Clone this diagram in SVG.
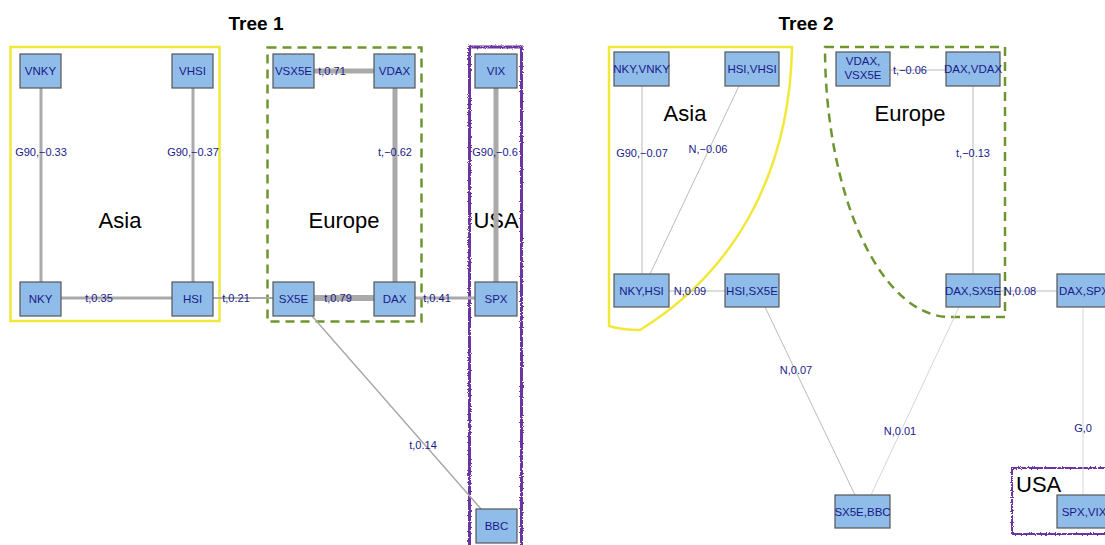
<svg xmlns="http://www.w3.org/2000/svg" width="1105" height="545" viewBox="0 0 1105 545">
<style>
.title{font-family:"Liberation Sans",Arial,sans-serif;font-size:19px;font-weight:bold;fill:#000;text-anchor:middle}
.grp{font-family:"Liberation Sans",Arial,sans-serif;font-size:22px;fill:#000;text-anchor:middle}
.node rect{fill:#8fbce9;stroke:#555;stroke-width:1.2}
.node text{font-family:"Liberation Sans",Arial,sans-serif;font-size:11.5px;fill:#1a1a8a;text-anchor:middle;dominant-baseline:central}
.el{font-family:"Liberation Sans",Arial,sans-serif;font-size:11px;fill:#1a1a8a;text-anchor:middle;dominant-baseline:central}
.e{stroke:#aaa;fill:none}
.e2{stroke:#bbb;fill:none;stroke-width:1}
.e3{stroke:#d6d6d6;fill:none;stroke-width:1}
.yel{fill:none;stroke:#f2e83a;stroke-width:2.5}
.grn{fill:none;stroke:#6d962f;stroke-width:2.5;stroke-dasharray:9 6}
.pur{fill:none;stroke:#6a35a0;filter:url(#rough)}
</style>
<defs>
<filter id="rough" x="-5%" y="-5%" width="110%" height="110%">
<feTurbulence type="fractalNoise" baseFrequency="1.2" numOctaves="2" seed="3" result="n"/>
<feDisplacementMap in="SourceGraphic" in2="n" scale="3"/>
</filter>
</defs>
<rect width="1105" height="545" fill="#fff"/>
<text class="title" x="256" y="30">Tree 1</text>
<text class="title" x="806" y="30">Tree 2</text>

<g id="groups">
<rect class="yel" x="10.5" y="47" width="209" height="274"/>
<rect class="grn" x="267.5" y="47.5" width="154" height="274"/>
<rect class="pur" x="469.5" y="47" width="52" height="510" stroke-width="3"/>
<path class="yel" d="M609 47 L792 47 C790 160 745 265 640 330 Q622 330 609 326 Z"/>
<path class="grn" d="M825 47 L1005 47 L1005 317 L950 317 A125 270 0 0 1 825 47 Z"/>
<rect class="pur" x="1012" y="468" width="110" height="66" stroke-width="2"/>
<text class="grp" x="120" y="228">Asia</text>
<text class="grp" x="344" y="228">Europe</text>
<text class="grp" x="496" y="228">USA</text>
<text class="grp" x="685" y="121">Asia</text>
<text class="grp" x="910" y="121">Europe</text>
<text class="grp" x="1016" y="492" style="text-anchor:start">USA</text>
</g>

<g id="connectors">
<line class="e" x1="41" y1="88" x2="41" y2="282" stroke-width="3"/>
<line class="e" x1="193" y1="88" x2="193" y2="282" stroke-width="3"/>
<line class="e" x1="61" y1="298" x2="172" y2="298" stroke-width="3"/>
<line class="e" x1="213" y1="298" x2="273" y2="298" stroke-width="1.8"/>
<line class="e" x1="314" y1="71" x2="374" y2="71" stroke-width="5"/>
<line class="e" x1="395" y1="88" x2="395" y2="282" stroke-width="5"/>
<line class="e" x1="314" y1="298" x2="374" y2="298" stroke-width="6"/>
<line class="e" x1="415" y1="298" x2="475" y2="298" stroke-width="3"/>
<line class="e" x1="496" y1="88" x2="496" y2="282" stroke-width="5"/>
<line class="e" x1="312" y1="316" x2="481" y2="509" stroke-width="1.5"/>
<text class="el" x="41" y="152">G90,−0.33</text>
<text class="el" x="193" y="152">G90,−0.37</text>
<text class="el" x="99" y="298">t,0.35</text>
<text class="el" x="236" y="298">t,0.21</text>
<text class="el" x="332" y="71">t,0.71</text>
<text class="el" x="395" y="152">t,−0.62</text>
<text class="el" x="338" y="298">t,0.79</text>
<text class="el" x="437" y="298">t,0.41</text>
<text class="el" x="495" y="152">G90,−0.6</text>
<text class="el" x="423" y="445">t,0.14</text>

<line class="e2" x1="642" y1="86" x2="642" y2="274"/>
<line class="e2" x1="739" y1="86" x2="650" y2="274"/>
<line class="e2" x1="669" y1="291" x2="725" y2="291"/>
<line class="e2" x1="890" y1="70" x2="946" y2="70"/>
<line class="e2" x1="973" y1="86" x2="973" y2="274"/>
<line class="e2" x1="1000" y1="291" x2="1057" y2="291"/>
<line class="e2" x1="765" y1="307" x2="855" y2="495"/>
<line class="e3" x1="959" y1="307" x2="871" y2="495"/>
<line class="e3" x1="1083" y1="307" x2="1083" y2="495"/>
<text class="el" x="642" y="153">G90,−0.07</text>
<text class="el" x="708" y="149">N,−0.06</text>
<text class="el" x="690" y="291">N,0.09</text>
<text class="el" x="910" y="70">t,−0.06</text>
<text class="el" x="973" y="153">t,−0.13</text>
<text class="el" x="1020" y="291">N,0.08</text>
<text class="el" x="796" y="370">N,0.07</text>
<text class="el" x="900" y="431">N,0.01</text>
<text class="el" x="1083" y="428">G,0</text>
</g>

<g id="VNKY" class="node"><rect x="20" y="54" width="41" height="34"/><text x="40.5" y="71">VNKY</text></g>
<g id="VHSI" class="node"><rect x="172" y="54" width="41" height="34"/><text x="192.5" y="71">VHSI</text></g>
<g id="NKY" class="node"><rect x="20" y="282" width="41" height="34"/><text x="40.5" y="299">NKY</text></g>
<g id="HSI" class="node"><rect x="172" y="282" width="41" height="34"/><text x="192.5" y="299">HSI</text></g>
<g id="VSX5E" class="node"><rect x="273" y="54" width="41" height="34"/><text x="293.5" y="71">VSX5E</text></g>
<g id="VDAX" class="node"><rect x="374" y="54" width="41" height="34"/><text x="394.5" y="71">VDAX</text></g>
<g id="SX5E" class="node"><rect x="273" y="282" width="41" height="34"/><text x="293.5" y="299">SX5E</text></g>
<g id="DAX" class="node"><rect x="374" y="282" width="41" height="34"/><text x="394.5" y="299">DAX</text></g>
<g id="VIX" class="node"><rect x="475" y="54" width="42" height="34"/><text x="496" y="71">VIX</text></g>
<g id="SPX" class="node"><rect x="475" y="282" width="42" height="34"/><text x="496" y="299">SPX</text></g>
<g id="BBC" class="node"><rect x="476" y="509" width="41" height="34"/><text x="496.5" y="526">BBC</text></g>

<g id="NKY_VNKY" class="node"><rect x="614" y="52" width="55" height="34"/><text x="641.5" y="69">NKY,VNKY</text></g>
<g id="HSI_VHSI" class="node"><rect x="725" y="52" width="54" height="34"/><text x="752" y="69">HSI,VHSI</text></g>
<g id="NKY_HSI" class="node"><rect x="614" y="274" width="55" height="33"/><text x="641.5" y="290.5">NKY,HSI</text></g>
<g id="HSI_SX5E" class="node"><rect x="725" y="274" width="54" height="33"/><text x="752" y="290.5">HSI,SX5E</text></g>
<g id="VDAX_VSX5E" class="node"><rect x="836" y="52" width="54" height="34"/><text x="863" y="61">VDAX,</text><text x="863" y="75">VSX5E</text></g>
<g id="DAX_VDAX" class="node"><rect x="946" y="52" width="54" height="34"/><text x="973" y="69">DAX,VDAX</text></g>
<g id="DAX_SX5E" class="node"><rect x="946" y="274" width="54" height="33"/><text x="973" y="290.5">DAX,SX5E</text></g>
<g id="DAX_SPX" class="node"><rect x="1057" y="274" width="54" height="33"/><text x="1084" y="290.5">DAX,SPX</text></g>
<g id="SX5E_BBC" class="node"><rect x="835" y="495" width="55" height="33"/><text x="862.5" y="511.5">SX5E,BBC</text></g>
<g id="SPX_VIX" class="node"><rect x="1057" y="495" width="54" height="33"/><text x="1084" y="511.5">SPX,VIX</text></g>
</svg>
